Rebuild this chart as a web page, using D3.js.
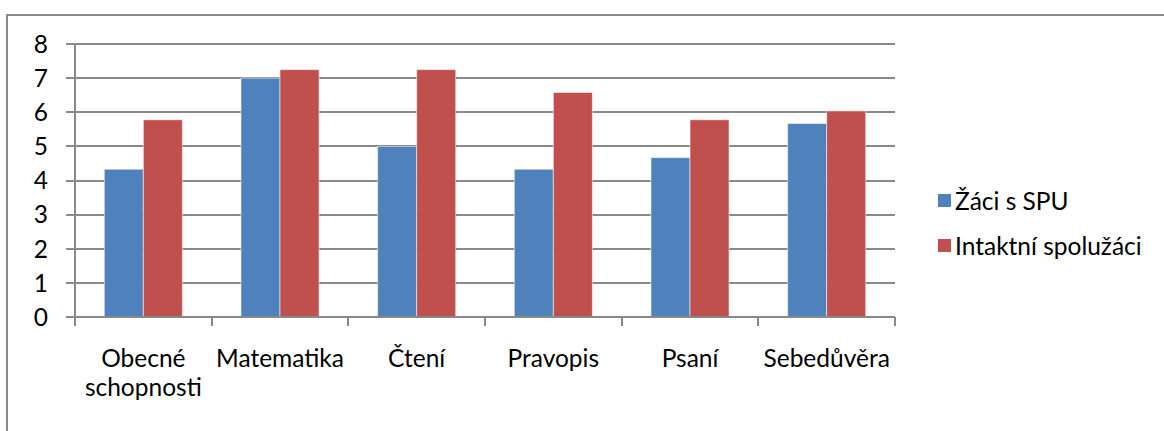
<!DOCTYPE html>
<html>
<head>
<meta charset="utf-8">
<script src="https://cdn.jsdelivr.net/npm/d3@7"></script>
<style>
  body { margin: 0; background: #fff; }
  text { font-family: Lato, "Open Sans", sans-serif; font-size: 24.5px; fill: #000; }
  .grid-line, .axis-line { stroke: #898989; stroke-width: 1.5; shape-rendering: crispEdges; }
</style>
</head>
<body>
<div id="chart"></div>
<script>
//////////////////////////////////////////////////////////////
//////////////////////////// Data ////////////////////////////
//////////////////////////////////////////////////////////////

const categories = [["Obecné", "schopnosti"], ["Matematika"], ["Čtení"], ["Pravopis"], ["Psaní"], ["Sebedůvěra"]]
const seriesNames = ["Žáci s SPU", "Intaktní spolužáci"]
const spuValues = [4.33, 7, 5, 4.33, 4.67, 5.67]
const intaktValues = [5.78, 7.25, 7.25, 6.58, 5.78, 6.04]
const yTicks = [0, 1, 2, 3, 4, 5, 6, 7, 8]

const colors = ["#4F81BD", "#C0504D"]

//////////////////////////////////////////////////////////////
///////////////////////// Create SVG /////////////////////////
//////////////////////////////////////////////////////////////

const width = 1164
const height = 431
const plot = { left: 75, right: 895, top: 44, bottom: 317 }

const svg = d3.select("#chart")
    .append("svg")
    .attr("width", width)
    .attr("height", height)

//Outer chart frame
svg.append("rect")
    .attr("x", 7)
    .attr("y", 15)
    .attr("width", width + 10)
    .attr("height", height + 10)
    .style("fill", "white")
    .style("stroke", "#898989")
    .style("stroke-width", 2)

//////////////////////////////////////////////////////////////
//////////////////////// Create scales ///////////////////////
//////////////////////////////////////////////////////////////

const xScale = d3.scaleBand()
    .domain(d3.range(categories.length))
    .range([plot.left, plot.right])

//Gap width of 150% -> each bar is 1/3.5 of a category
const xInner = d3.scaleBand()
    .domain([0, 1])
    .range([xScale.bandwidth() * 0.75 / 3.5, xScale.bandwidth() * (1 - 0.75 / 3.5)])

const yScale = d3.scaleLinear()
    .domain([0, 8])
    .range([plot.bottom, plot.top])

//////////////////////////////////////////////////////////////
///////////////////////// Gridlines //////////////////////////
//////////////////////////////////////////////////////////////

svg.append("g")
    .selectAll(".grid-line")
    .data(yTicks)
    .enter().append("line")
    .attr("class", "grid-line")
    .attr("x1", plot.left - 9)
    .attr("x2", plot.right)
    .attr("y1", d => Math.round(yScale(d)))
    .attr("y2", d => Math.round(yScale(d)))

svg.append("g")
    .selectAll(".y-label")
    .data(yTicks)
    .enter().append("text")
    .attr("class", "y-label")
    .attr("x", 48)
    .attr("y", d => yScale(d))
    .attr("dy", "0.36em")
    .attr("text-anchor", "end")
    .text(d => d)

//////////////////////////////////////////////////////////////
/////////////////////////// Bars /////////////////////////////
//////////////////////////////////////////////////////////////

const series = [spuValues, intaktValues]

series.forEach((values, s) => {
    svg.append("g")
        .selectAll(".bar-" + s)
        .data(values)
        .enter().append("rect")
        .attr("class", "bar-" + s)
        .attr("x", (d, i) => xScale(i) + xInner(s))
        .attr("width", xInner.bandwidth())
        .attr("y", d => yScale(d))
        .attr("height", d => yScale(0) - yScale(d))
        .style("fill", colors[s])
        .style("stroke", "rgba(255,255,255,0.55)")
        .style("stroke-width", 1)
})

//////////////////////////////////////////////////////////////
/////////////////////////// Axes /////////////////////////////
//////////////////////////////////////////////////////////////

//Vertical axis line
svg.append("line")
    .attr("class", "axis-line")
    .attr("x1", plot.left).attr("x2", plot.left)
    .attr("y1", plot.top).attr("y2", plot.bottom)

//Horizontal axis line
svg.append("line")
    .attr("class", "axis-line")
    .attr("x1", plot.left).attr("x2", plot.right)
    .attr("y1", plot.bottom).attr("y2", plot.bottom)

//Category tick marks at band boundaries
const boundaries = d3.range(categories.length + 1)
svg.append("g")
    .selectAll(".x-tick")
    .data(boundaries)
    .enter().append("line")
    .attr("class", "axis-line")
    .attr("x1", d => Math.round(d < categories.length ? xScale(d) : plot.right))
    .attr("x2", d => Math.round(d < categories.length ? xScale(d) : plot.right))
    .attr("y1", plot.bottom)
    .attr("y2", plot.bottom + 9)

//Category labels
const xLabels = svg.append("g")
    .selectAll(".x-label")
    .data(categories)
    .enter().append("text")
    .attr("class", "x-label")
    .attr("text-anchor", "middle")
    .attr("x", (d, i) => xScale(i) + xScale.bandwidth() / 2)
    .attr("y", 358)

xLabels.selectAll("tspan")
    .data(d => d)
    .enter().append("tspan")
    .attr("x", function() { return d3.select(this.parentNode).attr("x") })
    .attr("dy", (d, i) => i === 0 ? "0.36em" : 29)
    .text(d => d)

//////////////////////////////////////////////////////////////
////////////////////////// Legend ////////////////////////////
//////////////////////////////////////////////////////////////

const legendY = [201, 246]

const legend = svg.append("g")
    .selectAll(".legend-item")
    .data(seriesNames)
    .enter().append("g")
    .attr("class", "legend-item")
    .attr("transform", (d, i) => "translate(938," + legendY[i] + ")")

legend.append("rect")
    .attr("x", 0)
    .attr("y", -7)
    .attr("width", 13)
    .attr("height", 13)
    .style("fill", (d, i) => colors[i])

legend.append("text")
    .attr("x", 17)
    .attr("dy", "0.36em")
    .text(d => d)
</script>
</body>
</html>
